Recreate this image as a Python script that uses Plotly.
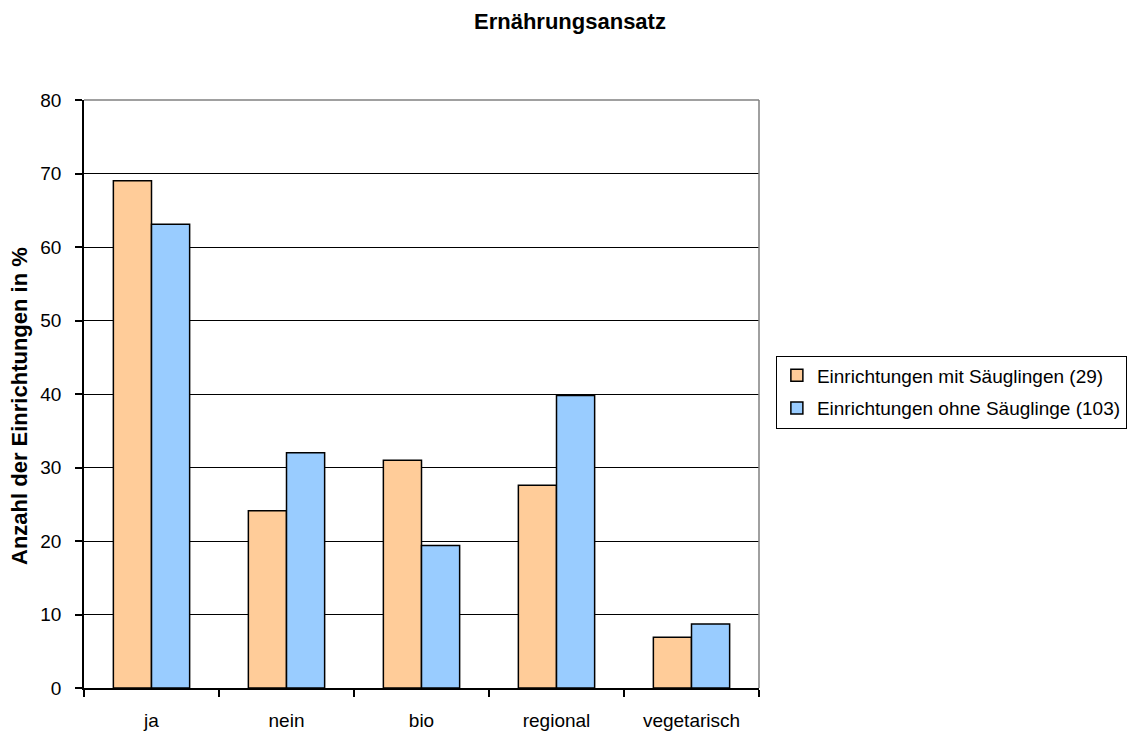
import plotly.graph_objects as go

categories = ["ja", "nein", "bio", "regional", "vegetarisch"]
mit_saeuglingen = [69.0, 24.1, 31.0, 27.6, 6.9]
ohne_saeuglinge = [63.1, 32.0, 19.4, 39.8, 8.7]
series_names = ["Einrichtungen mit Säuglingen (29)", "Einrichtungen ohne Säuglinge (103)"]
y_ticks = [0, 10, 20, 30, 40, 50, 60, 70, 80]

FONT = "Liberation Sans, Arial, sans-serif"
W, H = 1146, 731

fig = go.Figure()
fig.add_trace(go.Bar(
    x=categories, y=mit_saeuglingen, name=series_names[0], legendgroup="a",
    marker=dict(color="#FFCC99", line=dict(color="black", width=1.5)),
))
fig.add_trace(go.Bar(
    x=categories, y=ohne_saeuglinge, name=series_names[1], legendgroup="b",
    marker=dict(color="#99CCFF", line=dict(color="black", width=1.5)),
))

# gray frame on top and right of the plot area
fig.add_shape(type="line", xref="paper", yref="paper", x0=0, x1=1, y0=1, y1=1,
              line=dict(color="#808080", width=1.5), layer="above")
fig.add_shape(type="line", xref="paper", yref="paper", x0=1, x1=1, y0=0, y1=1,
              line=dict(color="#808080", width=1.5), layer="above")

# chart title and rotated y-axis title
fig.add_annotation(text="<b>Ernährungsansatz</b>", xref="paper", yref="paper",
                   x=(570 - 84) / 675, y=1 + (100 - 22) / 588,
                   xanchor="center", yanchor="middle", showarrow=False,
                   font=dict(family=FONT, size=22, color="black"))
fig.add_annotation(text="<b>Anzahl der Einrichtungen in %</b>", xref="paper", yref="paper",
                   x=(19 - 84) / 675, y=(688 - 406) / 588, textangle=-90,
                   xanchor="center", yanchor="middle", showarrow=False,
                   font=dict(family=FONT, size=22, color="black"))

fig.update_layout(
    width=W, height=H,
    margin=dict(l=84, r=387, t=100, b=43, autoexpand=False),
    paper_bgcolor="white", plot_bgcolor="white",
    barmode="group", bargap=0.435, bargroupgap=0,
    font=dict(family=FONT, size=19, color="black"),
    legend=dict(x=1.025, xanchor="left", y=(688 - 392) / 588, yanchor="middle",
                bordercolor="black", borderwidth=1, bgcolor="white",
                font=dict(family=FONT, size=19), traceorder="grouped",
                tracegroupgap=5, itemwidth=30),
    showlegend=True,
)
fig.update_xaxes(
    type="category", tickson="boundaries", ticks="outside", ticklen=7,
    tickcolor="black", tickwidth=1.5, showline=True, linecolor="black", linewidth=1.5,
    showgrid=False, tickfont=dict(family=FONT, size=19), ticklabelstandoff=14,
    automargin=False,
)
fig.update_yaxes(
    range=[0, 80], tickvals=y_ticks, ticks="outside", ticklen=7,
    tickcolor="black", tickwidth=1.5, showline=True, linecolor="black", linewidth=1.5,
    showgrid=True, gridcolor="black", gridwidth=1.2, zeroline=False,
    tickfont=dict(family=FONT, size=19), ticklabelstandoff=10,
    automargin=False,
)

fig.write_html("out.html")
